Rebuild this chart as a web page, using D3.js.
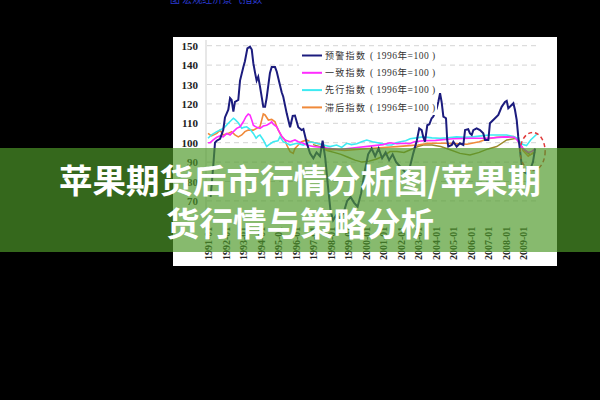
<!DOCTYPE html>
<html><head><meta charset="utf-8">
<script src="https://cdn.jsdelivr.net/npm/d3@7"></script>
<style>html,body{margin:0;padding:0;background:#000;overflow:hidden}</style>
</head><body>
<svg id="c" width="600" height="400"></svg>
<script>
const yTicks = [70, 80, 90, 100, 110, 120, 130, 140, 150];
const xTicks = d3.range(1991, 2010);
const seriesNames = ["预警指数", "一致指数", "先行指数", "滞后指数"];
const baseLabel = "( 1996年=100 )";
const titleLines = ["苹果期货后市行情分析图/苹果期", "货行情与策略分析"];
const topCaption = "图 宏观经济景气指数";

const warning = [[1991.15,72],[1991.3,88],[1991.4,100],[1991.5,101],[1991.69,102],[1991.87,106.5],[1991.97,113],[1992.16,117],[1992.26,123],[1992.35,122],[1992.45,116],[1992.54,121],[1992.73,122],[1992.83,132],[1993.02,139],[1993.11,142],[1993.25,148.6],[1993.4,149.5],[1993.5,148],[1993.59,141],[1993.69,136],[1993.78,132],[1993.87,134],[1993.97,129],[1994.16,118.5],[1994.26,118.5],[1994.35,123],[1994.54,136],[1994.64,139],[1994.83,139],[1994.93,136.6],[1995.11,129.7],[1995.21,126],[1995.3,123.7],[1995.5,115],[1995.69,108],[1995.84,113.8],[1995.97,114],[1996.16,108],[1996.35,106.5],[1996.45,107],[1996.64,100],[1996.83,94.5],[1997.02,92],[1997.2,95],[1997.4,93],[1997.55,101],[1997.7,92],[1997.85,78],[1998.0,65],[1998.15,60],[1998.35,63],[1998.55,61],[1998.75,64],[1998.95,70],[1999.15,72],[1999.35,69],[1999.55,67],[1999.75,74],[1999.95,85],[2000.15,94],[2000.35,97],[2000.55,93],[2000.75,97],[2000.95,92],[2001.15,95],[2001.35,91],[2001.55,94],[2001.75,90],[2001.95,88],[2002.15,86],[2002.35,84],[2002.55,88],[2002.73,94.5],[2002.93,101],[2003.07,107.4],[2003.21,106.5],[2003.3,103],[2003.4,100.5],[2003.53,109],[2003.65,109.5],[2003.78,112.6],[2003.87,113.4],[2004.07,117.7],[2004.16,121],[2004.26,125.5],[2004.35,121],[2004.45,113.4],[2004.6,112.6],[2004.67,101.4],[2004.73,98],[2004.93,98.8],[2005.02,100.5],[2005.21,98],[2005.4,99.7],[2005.59,98.8],[2005.69,106.5],[2005.87,107],[2005.97,104.8],[2006.07,104],[2006.16,106.5],[2006.35,107.4],[2006.54,106.5],[2006.73,104.8],[2006.83,101.4],[2007.02,101.4],[2007.11,110],[2007.4,112.6],[2007.59,114.3],[2007.78,118.5],[2007.97,121],[2008.07,121.6],[2008.16,117.7],[2008.35,119.4],[2008.45,120.3],[2008.54,117],[2008.64,111.7],[2008.73,103],[2008.83,96],[2008.93,88],[2009.05,85],[2009.23,84],[2009.4,86],[2009.57,90],[2009.69,97]];

const coincident = [[1991.0,100],[1991.12,100],[1991.3,101.4],[1991.5,102.8],[1991.69,103.5],[1991.87,103],[1992.07,104.8],[1992.26,104],[1992.45,105.7],[1992.64,107.4],[1992.83,108.2],[1993.02,110.8],[1993.17,113.4],[1993.3,114.8],[1993.4,114.3],[1993.5,111.7],[1993.59,109],[1993.78,107.9],[1993.97,107.4],[1994.16,108.6],[1994.35,109],[1994.54,110],[1994.64,110.8],[1994.73,109.6],[1994.93,108.2],[1995.02,106.5],[1995.21,103.5],[1995.4,101.4],[1995.69,100.5],[1995.97,101.4],[1996.16,100.5],[1996.45,99.7],[1996.64,98.8],[1997.02,98],[1997.5,97.5],[1998.0,97],[1998.5,96.5],[1999.0,97],[1999.5,97.5],[2000.0,98],[2000.5,98.5],[2001.0,99],[2001.4,100],[2001.8,99.5],[2002.2,99.7],[2002.5,99.5],[2002.8,100.5],[2003.3,101],[2004.0,101.2],[2005.0,102],[2006.0,102.3],[2007.0,102.3],[2008.0,103],[2008.5,102.8],[2008.65,101.5],[2008.85,99],[2009.0,97],[2009.3,95],[2009.5,95.5],[2009.7,97]];

const leading = [[1991.0,102.3],[1991.2,104],[1991.5,105.7],[1991.78,106.9],[1991.97,108.2],[1992.16,110],[1992.45,112.6],[1992.54,112],[1992.73,110.3],[1992.93,107.4],[1993.05,107.9],[1993.21,108.2],[1993.4,106.9],[1993.59,104.8],[1993.75,102.3],[1993.87,103.5],[1993.97,104],[1994.16,101.4],[1994.35,98],[1994.45,98.8],[1994.73,100.5],[1995.0,101],[1995.11,103],[1995.3,100.5],[1995.69,98.8],[1996.07,99.7],[1996.45,98.8],[1996.83,100.5],[1997.21,99.7],[1997.59,98.8],[1997.97,98],[1998.35,98.8],[1998.64,97.6],[1998.93,99.7],[1999.2,99],[1999.5,99.5],[1999.78,100.5],[2000.07,101.4],[2000.4,100.5],[2000.7,100],[2001.0,99.5],[2001.25,98.8],[2001.5,98.8],[2001.75,100],[2002.0,100.5],[2002.3,101],[2002.55,102],[2003.3,103],[2003.8,102.5],[2004.26,102.3],[2004.7,102.5],[2005.2,103],[2005.7,102.8],[2006.16,103],[2006.6,103.5],[2007.1,104],[2007.6,104],[2008.07,104],[2008.5,103],[2008.65,102.5],[2008.8,100.5],[2009.0,99],[2009.2,98.5],[2009.45,101.5],[2009.8,104.5]];

const lagging = [[1991.0,104.8],[1991.2,103.5],[1991.5,104.8],[1991.69,106.5],[1991.87,104],[1992.16,104.8],[1992.35,105.7],[1992.54,104],[1992.73,103],[1992.93,104],[1993.11,105.7],[1993.3,106.5],[1993.59,106.5],[1993.78,107.4],[1993.97,108.2],[1994.07,111.7],[1994.16,114.8],[1994.26,114.3],[1994.45,111.7],[1994.64,112],[1994.83,110.8],[1994.93,108.2],[1995.02,106.5],[1995.21,103],[1995.4,101.4],[1995.5,98.8],[1995.69,95.4],[1995.87,94.5],[1995.97,97],[1996.16,98.8],[1996.35,100.5],[1996.64,101.4],[1996.83,100.5],[1997.21,99.7],[1997.59,98.8],[1997.78,96.2],[1998.2,96.5],[1998.8,96],[1999.5,96.5],[2000.2,97],[2001.0,97.5],[2001.8,98],[2002.5,98.5],[2003.0,98.8],[2003.6,99.7],[2004.5,99.7],[2005.2,99.5],[2005.8,99.2],[2006.5,100.5],[2007.0,102],[2007.5,102.8],[2008.0,103],[2008.45,103.2],[2008.65,102],[2008.85,99.7],[2009.0,96],[2009.3,93],[2009.6,95]];

const extra = [[1997.0,99],[1997.4,98],[1997.8,96],[1998.2,95],[1998.6,94],[1999.0,92.5],[1999.4,91],[1999.8,90],[2000.2,90.5],[2000.6,91.5],[2001.0,93],[2001.4,95.4],[2001.8,95.4],[2002.2,95],[2002.6,96.5],[2003.0,98],[2003.3,98.8],[2003.8,98.8],[2004.3,98],[2004.8,96.5],[2005.4,94.5],[2005.97,93.7],[2006.5,95],[2007.0,96.8],[2007.5,98],[2008.07,101.4],[2008.64,102.3],[2009.0,97],[2009.4,93.7],[2009.7,95]];

const colors = ["#1c1c7e", "#ff2cff", "#3eeaf2", "#f08a3a"];
const extraColor = "#9c8a2c";

const svg = d3.select("#c");
svg.append("rect").attr("width", 600).attr("height", 400).attr("fill", "#000");

// faint blue caption at top (cut off by the frame edge)
svg.append("text").attr("x", 170).attr("y", 2.5)
  .attr("font-family", "Noto Sans CJK SC").attr("font-size", 10)
  .attr("fill", "#2a3ad0").text(topCaption);

// white chart panel
svg.append("rect").attr("x", 173).attr("y", 37).attr("width", 384).attr("height", 229).attr("fill", "#fff");

const x = d3.scaleLinear().domain([1991, 2009]).range([208, 523]);
const y = d3.scaleLinear().domain([60, 150]).range([220.3, 45.7]);

// gridlines
svg.append("g").selectAll("line").data(yTicks).join("line")
  .attr("x1", 207).attr("x2", 536)
  .attr("y1", d => y(d)).attr("y2", d => y(d))
  .attr("stroke", "#d4d4d4").attr("stroke-width", 1).attr("stroke-dasharray", "5,4");

// left axis line
svg.append("line").attr("x1", 206).attr("x2", 206).attr("y1", 40).attr("y2", 222)
  .attr("stroke", "#cfcfcf");

// y axis
const ya = svg.append("g").attr("transform", "translate(206,0)")
  .call(d3.axisLeft(y).tickValues(yTicks).tickSize(0).tickPadding(8));
ya.select(".domain").remove();
ya.selectAll("text").attr("font-family", "Liberation Serif").attr("font-weight", "bold")
  .attr("font-size", 11).attr("fill", "#222");

// x axis labels (rotated)
const xa = svg.append("g").attr("transform", "translate(0,260)")
  .call(d3.axisBottom(x).tickValues(xTicks).tickSize(0).tickFormat(d => d + "-01"));
xa.select(".domain").remove();
xa.selectAll("text")
  .attr("font-family", "Liberation Serif").attr("font-weight", "bold").attr("font-size", 10)
  .attr("fill", "#222")
  .attr("transform", "rotate(-90)").attr("text-anchor", "start")
  .attr("x", 0).attr("y", 0).attr("dx", 0).attr("dy", "0.35em");

const line = d3.line().x(d => x(d[0])).y(d => y(d[1]));

svg.append("path").datum(extra).attr("d", line).attr("fill", "none")
  .attr("stroke", extraColor).attr("stroke-width", 1.5);
[lagging, leading, coincident].forEach((s, i) => {
  svg.append("path").datum(s).attr("d", line).attr("fill", "none")
    .attr("stroke", colors[3 - i]).attr("stroke-width", 1.6);
});
svg.append("path").datum(warning).attr("d", line).attr("fill", "none")
  .attr("stroke", colors[0]).attr("stroke-width", 2);

// legend
svg.append("rect").attr("x", 299).attr("y", 48).attr("width", 138).attr("height", 67).attr("fill", "#fff");
const lg = svg.append("g");
seriesNames.forEach((n, i) => {
  const ly = 55.5 + i * 17.3;
  lg.append("line").attr("x1", 302).attr("x2", 322).attr("y1", ly).attr("y2", ly)
    .attr("stroke", colors[i]).attr("stroke-width", 2);
  lg.append("text").attr("x", 325).attr("y", ly).attr("dy", "0.35em")
    .attr("font-family", "Noto Sans CJK SC").attr("font-size", 9).attr("letter-spacing", 1.3)
    .attr("fill", "#333").text(n);
  lg.append("text").attr("x", 370).attr("y", ly).attr("dy", "0.35em")
    .attr("font-family", "Liberation Serif, Noto Sans CJK SC").attr("font-size", 9.5).attr("letter-spacing", 0.5)
    .attr("fill", "#333").text(baseLabel);
});

// red dashed ellipse annotation
svg.append("ellipse").attr("cx", x(2009.55)).attr("cy", y(95.5)).attr("rx", 12.5).attr("ry", 19)
  .attr("fill", "none").attr("stroke", "#e03a3a").attr("stroke-width", 1.5).attr("stroke-dasharray", "4,3");

// green overlay band and title
svg.append("rect").attr("x", 0).attr("y", 148).attr("width", 600).attr("height", 104)
  .attr("fill", "rgb(78,153,41)").attr("fill-opacity", 0.68);
svg.selectAll("text.title").data(titleLines).join("text").attr("class", "title")
  .attr("x", 300).attr("y", (d, i) => 178 + i * 43.5)
  .attr("text-anchor", "middle").attr("dominant-baseline", "central")
  .attr("font-family", "Noto Sans CJK SC").attr("font-weight", 700).attr("font-size", 33.5)
  .attr("fill", "#fff").text(d => d);
</script>
</body></html>
